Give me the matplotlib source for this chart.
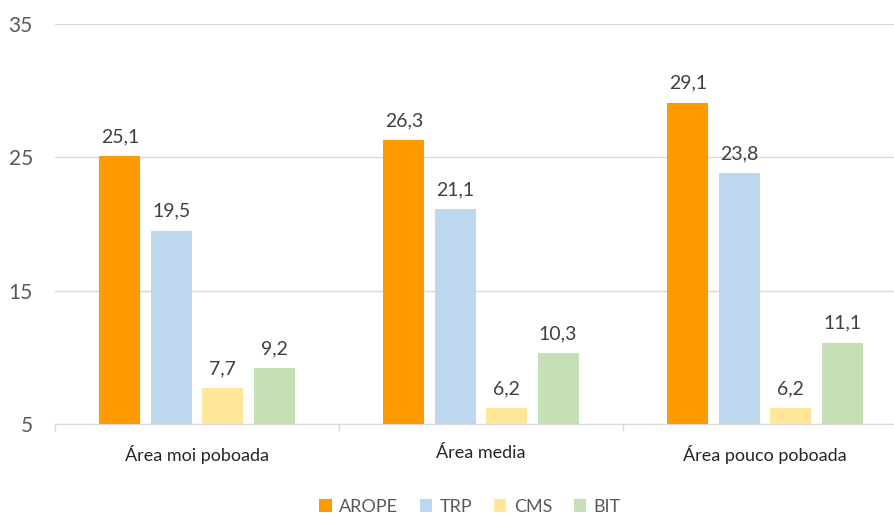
import matplotlib.pyplot as plt
import numpy as np

categories = ["Área moi poboada", "Área media", "Área pouco poboada"]
series = ["AROPE", "TRP", "CMS", "BIT"]
arope = [25.1, 26.3, 29.1]
trp = [19.5, 21.1, 23.8]
cms = [7.7, 6.2, 6.2]
bit = [9.2, 10.3, 11.1]
colors = ["#FF9900", "#BDD7EE", "#FFE699", "#C5E0B4"]

plt.rcParams['font.family'] = ['Lato', 'DejaVu Sans']

fig = plt.figure(figsize=(8.95, 5.14), dpi=100)
ax = fig.add_axes([55/895, 90/514, 852/895, 400/514])

x = np.arange(len(categories))
width = 0.144
step = 0.181
base = 5
for i, (name, vals) in enumerate(zip(series, [arope, trp, cms, bit])):
    pos = x + (i - 1.5) * step
    heights = np.array(vals) - base
    ax.bar(pos, heights, width, bottom=base, color=colors[i], label=name, zorder=3)
    for p, v in zip(pos, vals):
        ax.annotate(f"{v:.1f}".replace(".", ","), (p, v), xytext=(0, 8),
                    textcoords="offset points", ha="center", va="bottom",
                    fontsize=14, color="#404040")

ax.set_ylim(5, 35)
ax.set_xlim(-0.5, 2.5)
ax.set_yticks([5, 15, 25, 35])
ax.yaxis.grid(True, color="#D9D9D9", linewidth=1)
ax.set_axisbelow(True)
ax.tick_params(axis="y", length=0, pad=16, labelsize=15, labelcolor="#595959")

ax.set_xticks(x)
ax.set_xticklabels(categories)
ax.set_xticks([-0.5, 0.5, 1.5, 2.5], minor=True)
ax.tick_params(axis="x", which="major", length=0, pad=15, labelsize=13, labelcolor="#262626")
ax.tick_params(axis="x", which="minor", length=5, color="#D9D9D9", width=1)

for s in ["top", "right", "left"]:
    ax.spines[s].set_visible(False)
ax.spines["bottom"].set_color("#D9D9D9")

fig.legend(loc="center", bbox_to_anchor=(0.525, 0.014), ncol=4, frameon=False,
           fontsize=13, labelcolor="#595959", handlelength=0.7, handleheight=0.7,
           handletextpad=0.4, columnspacing=1.2)

fig.savefig("out.png", dpi=100)
